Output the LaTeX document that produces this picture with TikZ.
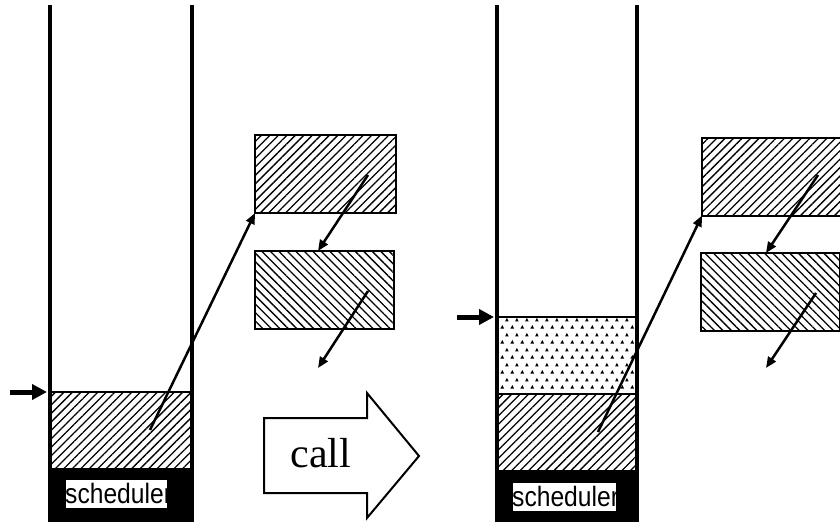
\documentclass[tikz,border=0pt]{standalone}
\usepackage{fontspec}
\setmainfont{Liberation Serif}
\newfontfamily\schedfont{Liberation Sans}
\usetikzlibrary{arrows.meta,patterns,patterns.meta,calc}
\pgfdeclarepatternformonly{tridots}{\pgfpointorigin}{\pgfqpoint{10pt}{15pt}}{\pgfqpoint{10pt}{15pt}}{%
  \pgfpathmoveto{\pgfqpoint{0.5pt}{0.5pt}}\pgfpathlineto{\pgfqpoint{4.5pt}{0.5pt}}\pgfpathlineto{\pgfqpoint{2.5pt}{4.2pt}}\pgfpathclose
  \pgfpathmoveto{\pgfqpoint{5.5pt}{8pt}}\pgfpathlineto{\pgfqpoint{9.5pt}{8pt}}\pgfpathlineto{\pgfqpoint{7.5pt}{11.7pt}}\pgfpathclose
  \pgfusepath{fill}}
\tikzset{
  wall/.style={line width=4pt},
  base/.style={fill=black},
  hatchNE/.style={pattern={Lines[angle=45,distance=6pt,line width=1.3pt]}},
  hatchNW/.style={pattern={Lines[angle=-45,distance=6pt,line width=1.3pt]}},
  blockA/.style={draw,line width=2pt,outer sep=0pt,inner sep=0pt,minimum width=141pt,minimum height=78pt,hatchNE},
  blockB/.style={draw,line width=2pt,outer sep=0pt,inner sep=0pt,minimum width=139pt,minimum height=78pt,hatchNW},
  ptr/.style={line width=2.5pt,-{Triangle[length=11pt,width=9pt]}},
  sp/.style={line width=5pt,-{Triangle[length=15pt,width=15pt]}},
  schedbox/.style={fill=white,inner sep=0pt,outer sep=0pt,minimum width=101pt,minimum height=28pt},
  schedtxt/.style={anchor=base west,inner sep=0pt,font=\schedfont\fontsize{28}{28}\selectfont},
  calltxt/.style={anchor=base,inner sep=0pt,font=\fontsize{42}{42}\selectfont},
  sepline/.style={line width=1.2pt},
}
\begin{document}
\begin{tikzpicture}[x=1pt,y=-1pt]
\useasboundingbox (0,0) rectangle (840,524);
\clip (0,0) rectangle (840,524);
% ---------- left stack ----------
\fill[hatchNE] (50,392) rectangle (190,468);
\draw[sepline] (50,392) -- (190,392);
\fill[base] (48,468) rectangle (194,522);
\draw[wall] (50,5) -- (50,522);
\draw[wall] (192,5) -- (192,522);
\node[schedbox] (sb1) at (116.5,494) {};
\node[schedtxt] (st1) at (65,503) {\scalebox{0.88}[1]{scheduler}};
\coordinate (sp1a) at (10,392);
\coordinate (sp1b) at (47,392);
\draw[sp] (sp1a) -- (sp1b);
% blocks left
\node[blockA] (b1) at (325.5,174) {};
\node[blockB] (b2) at (324.5,290) {};
\coordinate (l1) at (150,430);
\draw[ptr] (l1) -- (b1.south west);
\coordinate (a1) at (368,175);
\coordinate (a1e) at (318,251);
\draw[ptr] (a1) -- (a1e);
\coordinate (a2) at (368,291);
\coordinate (a2e) at (318,368);
\draw[ptr] (a2) -- (a2e);
% ---------- call arrow ----------
\draw[line width=2pt,line join=miter,fill=white] (264,418) -- (367,418) -- (367,393) -- (419,456) -- (367,518) -- (367,493) -- (264,493) -- cycle;
\node[calltxt] (call) at (321,467) {call};
% ---------- right stack ----------
\fill[pattern=tridots] (497,317) rectangle (637,394);
\fill[hatchNE] (497,394) rectangle (637,470);
\draw[sepline] (497,317) -- (637,317);
\draw[sepline] (497,394) -- (637,394);
\fill[base] (495,470) rectangle (639,522);
\draw[wall] (497,5) -- (497,522);
\draw[wall] (637,5) -- (637,522);
\node[schedbox,minimum width=103pt] (sb2) at (564.5,497) {};
\node[schedtxt] (st2) at (512,506) {\scalebox{0.88}[1]{scheduler}};
\coordinate (sp2a) at (457,317);
\coordinate (sp2b) at (494,317);
\draw[sp] (sp2a) -- (sp2b);
% blocks right
\node[blockA] (b3) at (772.5,176.5) {};
\node[blockB] (b4) at (770.5,292) {};
\coordinate (l2) at (598,432);
\draw[ptr] (l2) -- (b3.south west);
\coordinate (a3) at (818,175);
\coordinate (a3e) at (766,253);
\draw[ptr] (a3) -- (a3e);
\coordinate (a4) at (816,293);
\coordinate (a4e) at (766,368);
\draw[ptr] (a4) -- (a4e);
\end{tikzpicture}
\end{document}
